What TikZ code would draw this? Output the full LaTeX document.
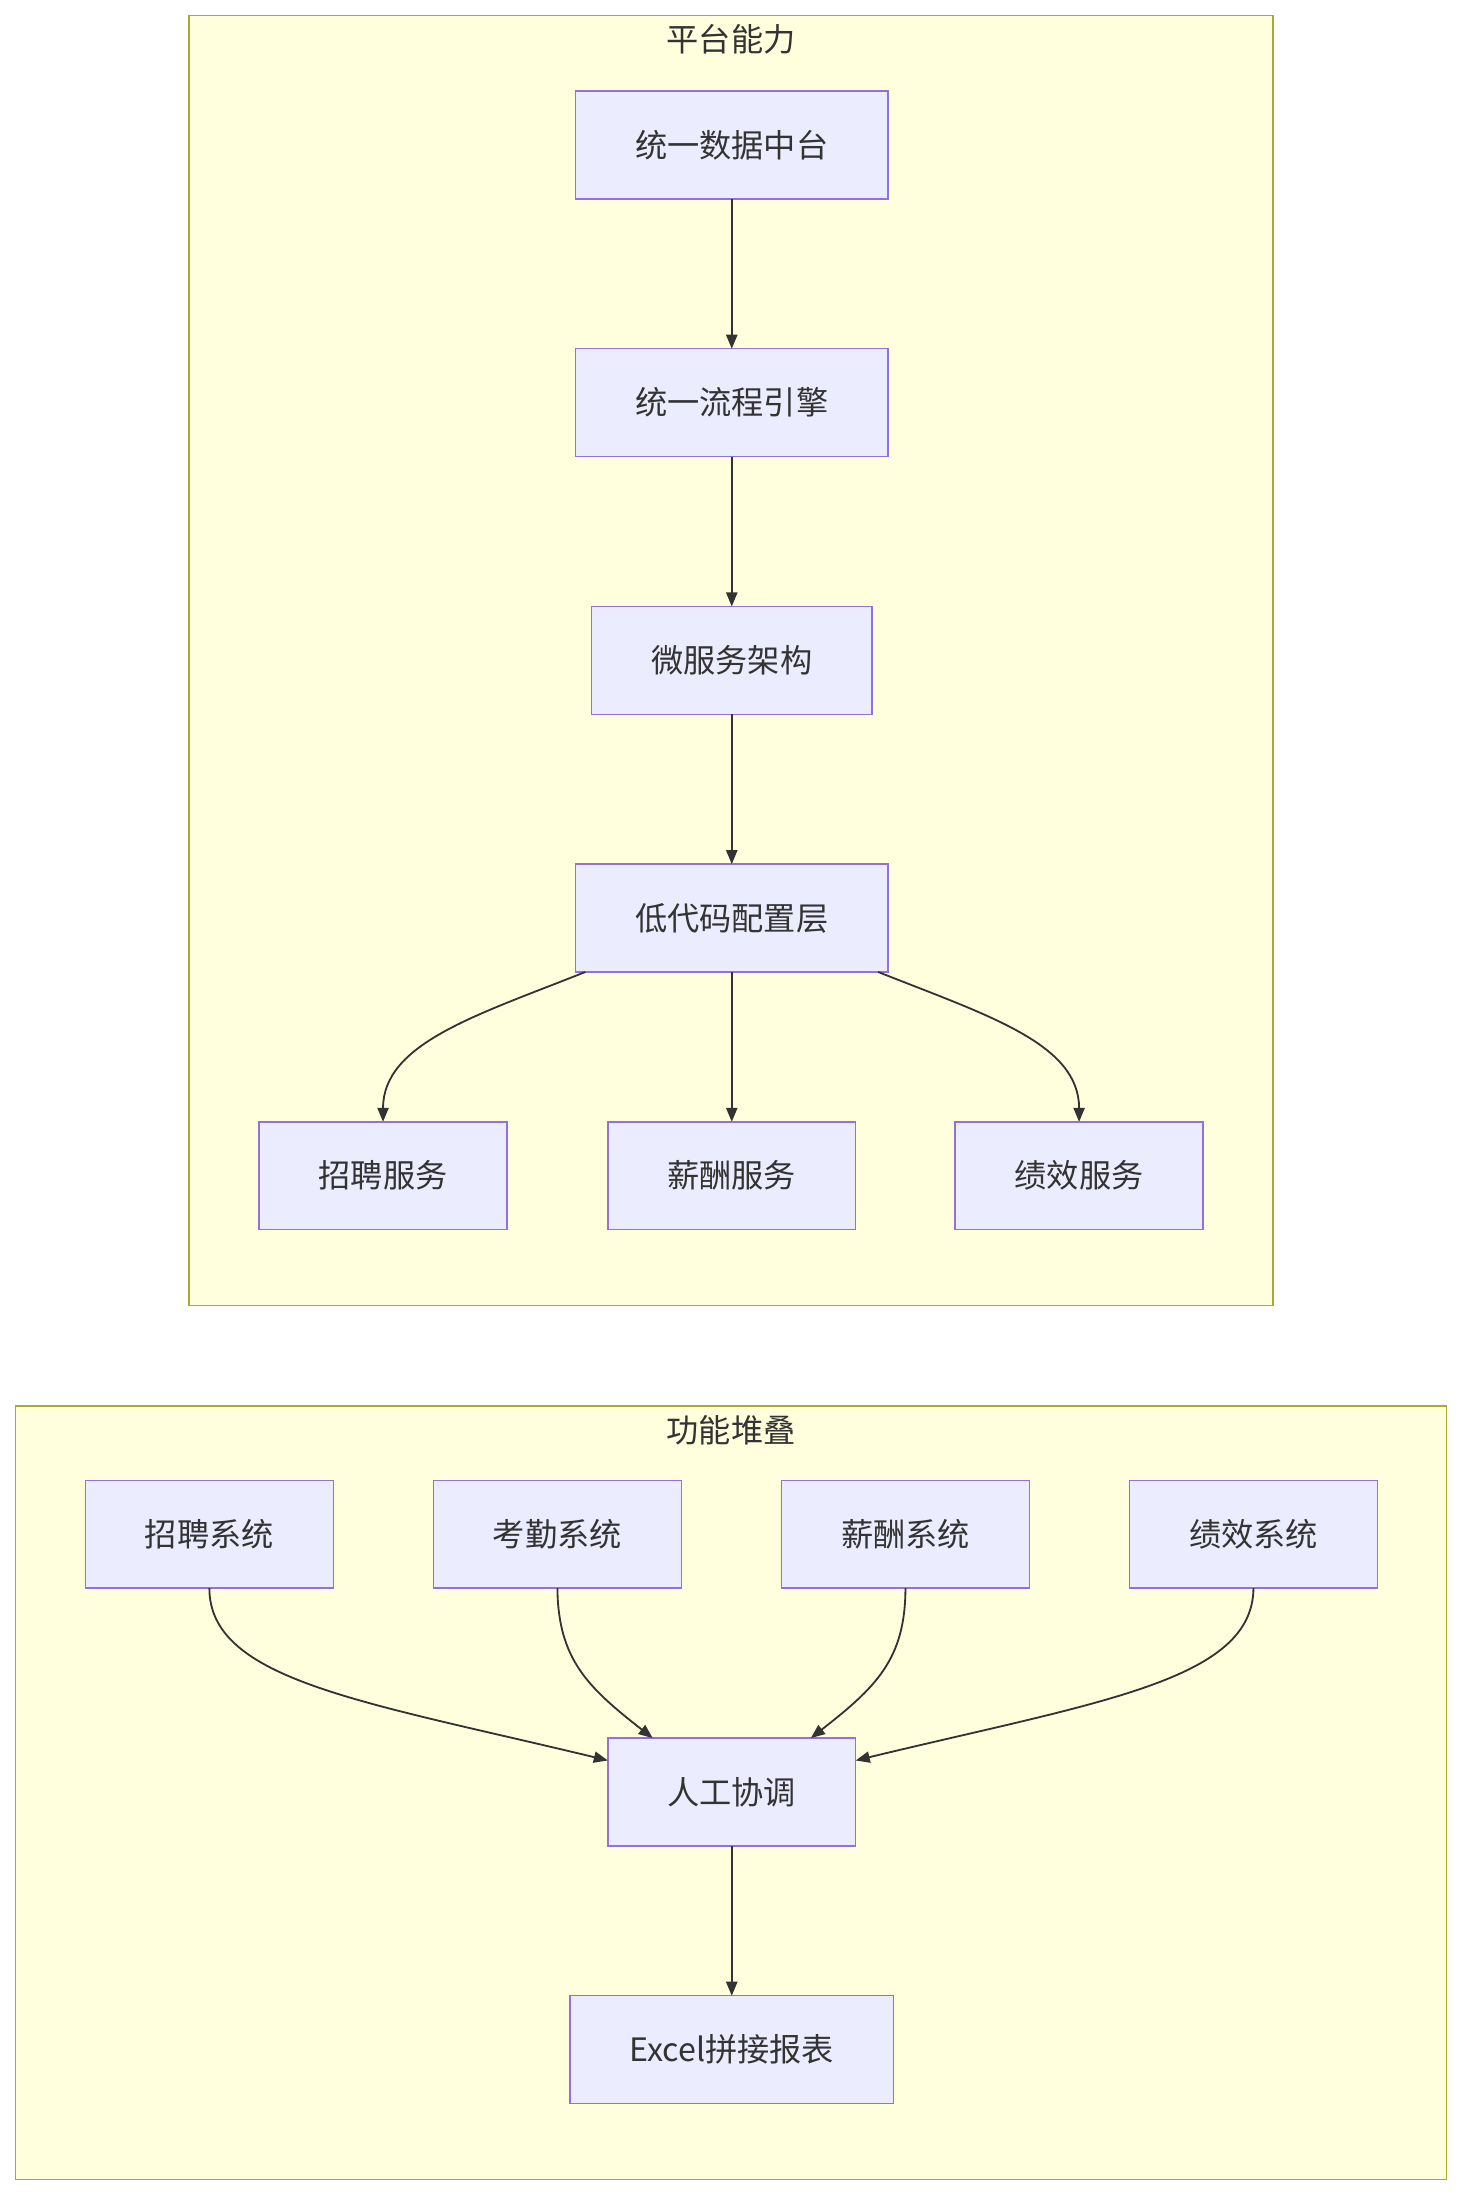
\documentclass[tikz,border=0pt]{standalone}
\usepackage{fontspec}
\setmainfont{Noto Sans CJK SC}
\usetikzlibrary{positioning,calc,arrows.meta}
\definecolor{nodefill}{HTML}{ECECFF}
\definecolor{nodeline}{HTML}{9370DB}
\definecolor{groupfill}{HTML}{FFFFDE}
\definecolor{groupline}{HTML}{AAAA33}
\definecolor{edgecol}{HTML}{333333}

\begin{document}
\begin{tikzpicture}[
    x=1pt, y=-1pt,
    node distance=107pt,
    box/.style={draw=nodeline, line width=1pt, fill=nodefill, rectangle, outer sep=0pt, minimum width=223pt, minimum height=77pt, align=center, text=edgecol, font=\fontsize{23}{27}\selectfont},
    title/.style={text=edgecol, font=\fontsize{23}{27}\selectfont},
    group/.style={draw=groupline, line width=1pt, fill=groupfill},
    flow/.style={-{Triangle[length=10pt,width=8pt]}, line width=1.3pt, draw=edgecol}
]
    \useasboundingbox (0,0) rectangle (1045,1568);

    % groups
    \draw[group] (135,11) rectangle (909,932);
    \draw[group] (11,1004) rectangle (1033,1556);
    \node[title] (ptitle) at (522,28) {平台能力};
    \node[title] (ftitle) at (522,1021) {功能堆叠};

    % platform
    \node[box] (data) at (522.5,103.5) {统一数据中台};
    \node[box, below=of data] (engine) {统一流程引擎};
    \node[box, minimum width=200pt, below=of engine] (micro) {微服务架构};
    \node[box, below=of micro] (lowcode) {低代码配置层};
    \node[box, minimum width=177pt] (hire) at (273.5,839.5) {招聘服务};
    \node[box, minimum width=177pt, below=of lowcode] (pay) {薪酬服务};
    \node[box, minimum width=177pt] (perf) at (770.5,839.5) {绩效服务};

    % stacked systems
    \node[box, minimum width=177pt] (hiresys) at (149.5,1095.5) {招聘系统};
    \node[box, minimum width=177pt, right=71.5pt of hiresys] (attsys) {考勤系统};
    \node[box, minimum width=177pt, right=71.5pt of attsys] (paysys) {薪酬系统};
    \node[box, minimum width=177pt, right=71.5pt of paysys] (perfsys) {绩效系统};
    \node[box, minimum width=177pt] (coord) at (522.5,1279.5) {人工协调};
    \node[box, minimum width=231pt, below=of coord] (excel) {Excel拼接报表};

    \draw[flow] (data) -- (engine);
    \draw[flow] (engine) -- (micro);
    \draw[flow] (micro) -- (lowcode);
    \draw[flow] ($(lowcode.south west)+(7,0)$) .. controls (340,725) and (273.5,745) .. (hire.north);
    \draw[flow] (lowcode) -- (pay);
    \draw[flow] ($(lowcode.south east)+(-7,0)$) .. controls (705,725) and (770.5,745) .. (perf.north);

    \draw[flow] (hiresys.south) .. controls (149.5,1200) and (260,1215) .. ($(coord.north west)+(0,16)$);
    \draw[flow] (attsys.south) .. controls (398.5,1185) and (420,1205) .. ($(coord.north)+(-56.5,0)$);
    \draw[flow] (paysys.south) .. controls (646.5,1185) and (625,1205) .. ($(coord.north)+(56.5,0)$);
    \draw[flow] (perfsys.south) .. controls (894.5,1200) and (785,1215) .. ($(coord.north east)+(0,16)$);
    \draw[flow] (coord) -- (excel);
\end{tikzpicture}
\end{document}
